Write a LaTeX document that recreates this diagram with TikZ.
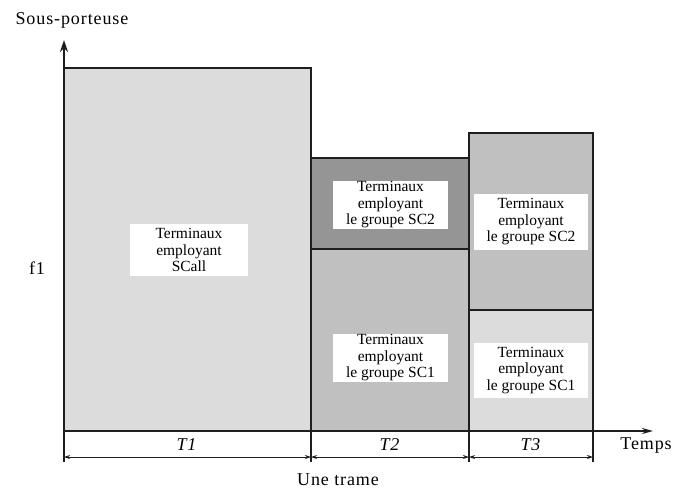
\documentclass[tikz,border=0pt]{standalone}
\usepackage{fontspec}
\setmainfont{Liberation Serif}
\newfontfamily\spacedfont[LetterSpace=5]{Liberation Serif}
\usetikzlibrary{positioning,calc,arrows.meta}
\definecolor{lightbg}{HTML}{DCDCDC}
\definecolor{midbg}{HTML}{C0C0C0}
\definecolor{darkbg}{HTML}{959595}
\definecolor{edge}{HTML}{1E1E1E}

\begin{document}
\begin{tikzpicture}[x=1pt, y=-1pt, >=Stealth,
  slot/.style={draw=edge, line width=2pt, inner sep=0pt, outer sep=0pt},
  tag/.style={fill=white, inner sep=0pt, align=center, font=\fontsize{15.5}{16.5}\selectfont},
  lbl/.style={font=\fontsize{18}{20}\spacedfont}]
  \useasboundingbox (0,0) rectangle (676,491);

  % Time slots of one frame
  \node[slot, fill=lightbg, minimum width=247pt, minimum height=363pt] (t1) at (187.5,249.5) {};
  \node[slot, fill=darkbg, minimum width=158pt, minimum height=91pt] (t2hi) at (390,203.5) {};
  \node[slot, fill=midbg, minimum width=158pt, minimum height=182pt] (t2lo) at (390,340) {};
  \node[slot, fill=midbg, minimum width=124pt, minimum height=177pt] (t3hi) at (531,221.5) {};
  \node[slot, fill=lightbg, minimum width=124pt, minimum height=121pt] (t3lo) at (531,370.5) {};

  \node[tag, minimum width=118pt, minimum height=52pt] (all) at (189,250) {Terminaux\\employant\\SCall};
  \node[tag, minimum width=115pt, minimum height=48pt] (sc2a) at (390.5,205) {Terminaux\\employant\\le groupe SC2};
  \node[tag, minimum width=114pt, minimum height=56pt] (sc2b) at (531,222) {Terminaux\\employant\\le groupe SC2};
  \node[tag, minimum width=115pt, minimum height=48pt] (sc1a) at (390.5,358) {Terminaux\\employant\\le groupe SC1};
  \node[tag, minimum width=114pt, minimum height=55pt] (sc1b) at (531,370.5) {Terminaux\\employant\\le groupe SC1};

  % Axes
  \coordinate (o) at (64,431);
  \coordinate (ytop) at (64,40);
  \coordinate (xend) at (653,431);
  \draw[line width=2pt, edge, -{Stealth[length=12pt, width=8pt]}] (o) -- (ytop);
  \draw[line width=2pt, edge, -{Stealth[length=11pt, width=6pt]}] (o) -- (xend);
  \node[lbl] (yname) at (72,20) {Sous-porteuse};
  \node[lbl] (xname) at (646,446) {Temps};
  \node[lbl] (f1) at (37,268) {f1};

  % Slot durations
  \foreach \n/\x in {a/64, b/311, c/469, d/593} {
    \coordinate (\n top) at (\x,431);
    \coordinate (\n bot) at (\x,462);
    \coordinate (\n dim) at (\x,457);
    \draw[line width=1.6pt, edge] (\n top) -- (\n bot);
  }
  \draw[edge, line width=0.8pt, {Stealth[length=6pt, width=4pt]}-{Stealth[length=6pt, width=4pt]}] (adim) -- (bdim);
  \draw[edge, line width=0.8pt, {Stealth[length=6pt, width=4pt]}-{Stealth[length=6pt, width=4pt]}] (bdim) -- (cdim);
  \draw[edge, line width=0.8pt, {Stealth[length=6pt, width=4pt]}-{Stealth[length=6pt, width=4pt]}] (cdim) -- (ddim);
  \node[lbl] (d1) at (187,445) {\textit{T1}};
  \node[lbl] (d2) at (390,445) {\textit{T2}};
  \node[lbl] (d3) at (531,445) {\textit{T3}};
  \node[lbl] (frame) at (338,480) {Une trame};
\end{tikzpicture}
\end{document}
